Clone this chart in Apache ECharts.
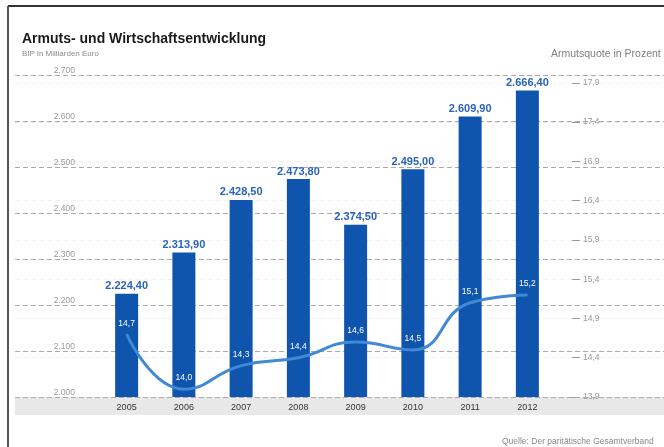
<!DOCTYPE html>
<html>
<head>
<meta charset="utf-8">
<script src="https://cdn.jsdelivr.net/npm/echarts@6/dist/echarts.min.js"></script>
<style>html,body{margin:0;padding:0;background:#fff;}#c{width:664px;height:447px;}</style>
</head>
<body>
<div id="c"></div>
<script>
var years = ['2005', '2006', '2007', '2008', '2009', '2010', '2011', '2012'];
var gdp = [2224.4, 2313.9, 2428.5, 2473.8, 2374.5, 2495.0, 2609.9, 2666.4];
var poverty = [14.7, 14.0, 14.3, 14.4, 14.6, 14.5, 15.1, 15.2];
var gdpAxis = { min: 2000, max: 2700, interval: 100 };
var povAxis = { min: 13.9, max: 18.0, interval: 0.5 };

function deNum(v, d) {
  var s = Number(v).toFixed(d);
  var parts = s.split('.');
  var ip = parts[0].replace(/\B(?=(\d{3})+(?!\d))/g, '.');
  return parts.length > 1 ? ip + ',' + parts[1] : ip;
}

var chart = echarts.init(document.getElementById('c'), null, { renderer: 'canvas' });
var F = 'Liberation Sans, Arial, sans-serif';
chart.setOption({
  animation: false,
  backgroundColor: '#fff',
  textStyle: { fontFamily: F },
  title: [
    { text: 'Armuts- und Wirtschaftsentwicklung', left: 17, top: 27,
      textStyle: { fontSize: 14, fontWeight: 'bold', color: '#1a1a1a', fontFamily: F } },
    { text: 'BIP in Milliarden Euro', left: 17, top: 45,
      textStyle: { fontSize: 8, fontWeight: 'normal', color: '#8a8a8a', fontFamily: F } },
    { text: 'Armutsquote in Prozent', left: 546, top: 44,
      textStyle: { fontSize: 10.5, fontWeight: 'normal', color: '#808080', fontFamily: F } },
    { text: 'Quelle: Der paritätische Gesamtverband', left: 497, top: 432,
      textStyle: { fontSize: 8.5, fontWeight: 'normal', color: '#888', fontFamily: F } }
  ],
  graphic: [
    { type: 'rect', z: -10, shape: { x: 15, y: 397, width: 649, height: 18 }, style: { fill: '#e8e8e8' } },
    { type: 'line', shape: { x1: 8, y1: 6, x2: 664, y2: 6 }, style: { stroke: '#333', lineWidth: 2 } },
    { type: 'line', shape: { x1: 8, y1: 6, x2: 8, y2: 447 }, style: { stroke: '#555', lineWidth: 2 } }
  ],
  grid: [
    { left: 98, right: 108, top: 75, bottom: 50 },
    { left: 15, right: 0, top: 75, bottom: 50 }
  ],
  xAxis: [
    { type: 'category', gridIndex: 0, data: years,
      axisLine: { show: false }, axisTick: { show: false },
      axisLabel: { fontSize: 9, color: '#333', margin: 6, fontFamily: F } },
    { type: 'value', gridIndex: 1, show: false, min: 0, max: 1 }
  ],
  yAxis: [
    { type: 'value', gridIndex: 0, position: 'left', min: gdpAxis.min, max: gdpAxis.max, interval: gdpAxis.interval,
      axisLine: { show: false }, axisTick: { show: false }, splitLine: { show: false },
      axisLabel: { fontSize: 8.5, color: '#999', margin: 23, verticalAlign: 'bottom',
        formatter: function (v) { return deNum(v, 0); } } },
    { type: 'value', gridIndex: 0, position: 'right', offset: 16,
      min: povAxis.min, max: povAxis.max, interval: povAxis.interval,
      axisLine: { show: false },
      axisTick: { show: true, length: 8, lineStyle: { color: '#999' } },
      splitLine: { show: false },
      axisLabel: { fontSize: 8.5, color: '#999', margin: 11, showMaxLabel: false,
        formatter: function (v) { return deNum(v, 1); } } },
    { type: 'value', gridIndex: 1, min: gdpAxis.min, max: gdpAxis.max, interval: gdpAxis.interval, z: 3,
      axisLine: { show: false }, axisTick: { show: false }, axisLabel: { show: false },
      splitLine: { show: true, lineStyle: { color: '#aaa', type: [5, 3], width: 1 } } },
    { type: 'value', gridIndex: 1, position: 'right', min: povAxis.min, max: povAxis.max, interval: povAxis.interval, z: -1,
      axisLine: { show: false }, axisTick: { show: false }, axisLabel: { show: false },
      splitLine: { show: true, showMaxLine: false, showMinLine: false, lineStyle: { color: '#f0f0f0', type: [5, 3], width: 1 } } }
  ],
  series: [
    { type: 'bar', xAxisIndex: 0, yAxisIndex: 0, data: gdp, barWidth: 23, z: 4,
      itemStyle: { color: '#0f55ad' },
      label: { show: true, position: 'top', distance: 2, fontSize: 11, fontWeight: 'bold', color: '#2a64b8',
        fontFamily: F, formatter: function (p) { return deNum(p.value, 2); } } },
    { type: 'line', xAxisIndex: 0, yAxisIndex: 1, data: poverty, smooth: 0.5, z: 5,
      symbol: 'circle', symbolSize: 1,
      lineStyle: { color: '#3f89d6', width: 3 }, itemStyle: { color: '#3f89d6' },
      label: { show: true, position: 'top', distance: 6, fontSize: 8.5, color: '#fff', fontFamily: F,
        formatter: function (p) { return deNum(p.value, 1); } } }
  ]
});
</script>
</body>
</html>
